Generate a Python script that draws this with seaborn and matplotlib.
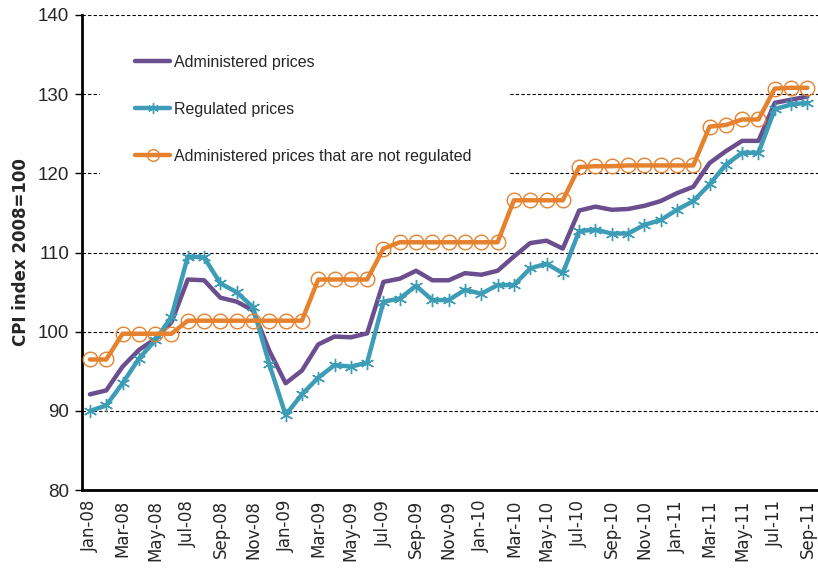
import matplotlib
matplotlib.use("Agg")
import matplotlib.pyplot as plt
import seaborn as sns
import numpy as np
import pandas as pd

# --- data ---
months = pd.date_range("2008-01-01", "2011-09-01", freq="MS")
month_labels = [m.strftime("%b-%y") for m in months]

administered = [92.1, 92.6, 95.6, 97.7, 99.1, 101.2, 106.6, 106.5, 104.3, 103.8,
                102.7, 97.6, 93.5, 95.1, 98.4, 99.4, 99.3, 99.8, 106.3, 106.7,
                107.7, 106.5, 106.5, 107.4, 107.2, 107.7, 109.5, 111.2, 111.5, 110.5,
                115.3, 115.8, 115.4, 115.5, 115.9, 116.5, 117.5, 118.3, 121.3, 122.8,
                124.1, 124.1, 128.9, 129.3, 129.7]
regulated = [90.0, 90.7, 93.5, 96.6, 98.9, 101.9, 109.5, 109.4, 106.1, 105.0,
             103.1, 95.9, 89.5, 92.1, 94.2, 95.8, 95.6, 96.1, 103.8, 104.2,
             105.8, 104.0, 104.0, 105.3, 104.8, 105.9, 105.9, 108.0, 108.6, 107.4,
             112.7, 112.9, 112.4, 112.4, 113.5, 114.1, 115.4, 116.5, 118.6, 121.1,
             122.6, 122.6, 128.1, 128.7, 128.9]
not_regulated = [96.5, 96.5, 99.75, 99.75, 99.75, 99.75, 101.4, 101.4, 101.4, 101.4,
                 101.4, 101.4, 101.4, 101.4, 106.6, 106.6, 106.6, 106.6, 110.5, 111.3,
                 111.3, 111.3, 111.3, 111.3, 111.3, 111.3, 116.6, 116.6, 116.6, 116.6,
                 120.8, 120.9, 120.9, 121.0, 121.0, 121.0, 121.0, 121.0, 125.9, 126.1,
                 126.8, 126.8, 130.7, 130.8, 130.8]

yticks = [80, 90, 100, 110, 120, 130, 140]

# --- plot ---
sns.set_style("white")
narrow = ["Liberation Sans", "DejaVu Sans"]

fig = plt.figure(figsize=(8.18, 5.74), dpi=100)
ax = fig.add_axes([0.100, 0.146, 0.900, 0.828])

x = np.arange(len(months))
purple = "#6A4E8E"
teal = "#3E9DB6"
orange = "#E6822E"

ax.set_axisbelow(True)
for v in yticks[1:]:
    # top line stays visible over the legend box
    ax.axhline(v, color="black", ls=(0, (3, 2)), lw=0.8,
               zorder=2.5 if v == yticks[-1] else 0)

sns.lineplot(x=x, y=administered, ax=ax, color=purple, lw=3.2,
             label="Administered prices", zorder=3)
sns.lineplot(x=x, y=regulated, ax=ax, color=teal, lw=3.2, marker=(6, 2, 0),
             markersize=9.5, markeredgecolor=teal, markeredgewidth=1.0,
             label="Regulated prices", zorder=4)
sns.lineplot(x=x, y=not_regulated, ax=ax, color=orange, lw=3.2, marker="o",
             markersize=10.5, markerfacecolor="none", markeredgecolor=orange,
             markeredgewidth=1.0,
             label="Administered prices that are not regulated", zorder=5)

ax.set_xlim(-0.5, 44.65)
ax.set_ylim(80, 140)
ax.set_yticks(yticks)
ax.set_yticklabels([str(v) for v in yticks], family=narrow, fontsize=13.5)
ax.set_xticks(x[::2])
ax.set_xticklabels(month_labels[::2], rotation=90, fontsize=12)
ax.set_xticks(np.arange(-0.5, 45, 2), minor=True)
ax.tick_params(axis="x", which="major", length=0, pad=7)
ax.tick_params(axis="x", which="minor", length=5, width=1, color="black", direction="out")
ax.tick_params(axis="y", length=5, width=1, color="black", direction="out", left=True, pad=4)

ax.set_ylabel("CPI index 2008=100", fontsize=12, fontweight="bold", labelpad=6)

for s in ["top", "right"]:
    ax.spines[s].set_visible(False)
for s in ["left", "bottom"]:
    ax.spines[s].set_color("black")
    ax.spines[s].set_linewidth(2)

leg = ax.legend(loc="upper left", bbox_to_anchor=(0.025, 0.99), borderaxespad=0,
                frameon=True, prop={"family": narrow, "size": 11.5},
                handlelength=2.15, handletextpad=0.3, labelspacing=2.0,
                borderpad=2.2, fancybox=False, markerscale=0.8)
leg.get_frame().set_facecolor("white")
leg.get_frame().set_edgecolor("white")
leg.get_frame().set_alpha(1)
leg.set_zorder(2)

fig.savefig("out.png", dpi=100)
